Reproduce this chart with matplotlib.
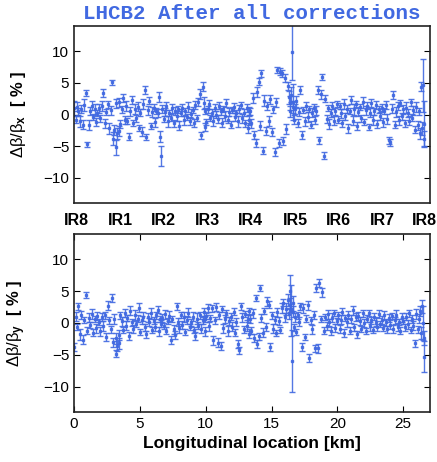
import numpy as np
import matplotlib
matplotlib.use("Agg")
import matplotlib.pyplot as plt

# BPM positions [km], shared by both planes
s_km = [
    0.03, 0.12, 0.22, 0.33, 0.44, 0.55, 0.66, 0.78, 0.89, 1.00, 1.11, 1.22, 1.33, 1.44, 1.56, 1.67,
    1.78, 1.89, 2.00, 2.11, 2.22, 2.33, 2.45, 2.56, 2.67, 2.78, 2.89, 2.98, 3.07, 3.16, 3.22, 3.28,
    3.38, 3.44, 3.52, 3.62, 3.73, 3.84, 3.95, 4.06, 4.17, 4.28, 4.39, 4.50, 4.61, 4.72, 4.83, 4.94,
    5.05, 5.16, 5.27, 5.38, 5.49, 5.60, 5.71, 5.82, 5.93, 6.04, 6.15, 6.26, 6.37, 6.48, 6.56, 6.63,
    6.71, 6.80, 6.91, 7.02, 7.13, 7.24, 7.35, 7.46, 7.57, 7.68, 7.79, 7.90, 8.01, 8.12, 8.23, 8.34,
    8.45, 8.56, 8.67, 8.78, 8.89, 9.00, 9.11, 9.22, 9.33, 9.44, 9.55, 9.66, 9.77, 9.86, 9.93, 9.98,
    10.05, 10.14, 10.25, 10.36, 10.47, 10.58, 10.69, 10.80, 10.91, 11.02, 11.13, 11.24, 11.35, 11.46, 11.57, 11.68,
    11.79, 11.90, 12.01, 12.12, 12.23, 12.34, 12.45, 12.56, 12.67, 12.78, 12.89, 13.00, 13.11, 13.20, 13.27, 13.32,
    13.39, 13.47, 13.58, 13.69, 13.80, 13.91, 14.02, 14.13, 14.24, 14.35, 14.46, 14.57, 14.68, 14.79, 14.90, 15.01,
    15.12, 15.23, 15.34, 15.45, 15.56, 15.67, 15.78, 15.89, 16.00, 16.11, 16.22, 16.30, 16.38, 16.44, 16.50, 16.55, 16.60,
    16.66, 16.72, 16.79, 16.87, 16.98, 17.09, 17.20, 17.31, 17.42, 17.53, 17.64, 17.75, 17.86, 17.97, 18.08, 18.19,
    18.30, 18.41, 18.52, 18.63, 18.74, 18.85, 18.96, 19.07, 19.18, 19.29, 19.40, 19.51, 19.62, 19.73, 19.84, 19.95,
    20.06, 20.17, 20.28, 20.39, 20.50, 20.61, 20.72, 20.83, 20.94, 21.05, 21.16, 21.27, 21.38, 21.49, 21.60,
    21.71, 21.82, 21.93, 22.04, 22.15, 22.26, 22.37, 22.48, 22.59, 22.70, 22.81, 22.92, 23.03, 23.14, 23.25,
    23.36, 23.47, 23.58, 23.69, 23.80, 23.91, 24.02, 24.13, 24.24, 24.35, 24.46, 24.57, 24.68, 24.79, 24.90, 25.01,
    25.12, 25.23, 25.34, 25.45, 25.56, 25.67, 25.78, 25.89, 26.00, 26.11, 26.22, 26.31, 26.39, 26.46, 26.52, 26.57, 26.62,
]

# horizontal beta-beat [%] and its error
dbx = [
    1.0, -0.8, 1.2, 0.5, -1.1, 0.9, -1.6, 1.5, 3.4, -4.7, -1.7, 0.6, 1.4, -0.4, 0.8, -1.2,
    0.2, 1.0, -0.6, 1.3, 3.4, -1.4, 0.4, 1.6, -2.2, 0.7, 5.1, -3.8, -2.4, -5.2, 1.8, -3.0,
    -2.6, 1.9, -1.5, 0.8, 2.6, -0.9, 1.4, -1.0, -3.5, 0.5, 2.3, -1.3, 0.9, -0.6, 1.2, -2.1,
    0.3, -2.7, 1.6, 3.9, -3.6, 0.7, 2.2, -1.8, 0.4, 1.1, -1.2, 0.6, 0.2, 2.8, -3.5, -6.6,
    0.9, -0.7, 0.4, 1.3, -1.1, 0.2, -0.5, 1.0, -1.4, 0.6, -0.2, 0.8, -1.8, 0.3, 1.1, -0.9,
    0.5, -0.4, 1.2, -1.0, 0.1, 0.7, -1.3, 1.5, -0.6, 2.0, 3.2, -3.3, 4.4, 1.8, -2.0, 0.6,
    -1.2, 0.8, 1.6, -0.5, 0.3, -1.0, 1.1, 0.0, -0.7, 1.4, 0.5, -1.3, 0.9, -0.2, 1.8, -0.8,
    0.4, -1.6, 0.7, 1.2, -0.4, 0.2, -1.1, 0.9, 1.5, -0.6, 0.3, -1.4, 1.0, -2.2, 0.6, -0.9,
    0.5, -1.4, 2.6, -3.2, -4.5, 3.6, 5.2, -1.8, 6.5, -5.7, 2.2, -2.6, 1.3, -1.0, 2.4, -2.8,
    0.8, -5.9, 1.9, 7.0, -4.5, 6.8, 6.5, -4.2, 5.8, -2.3, 4.5, 2.7, 0.5, 1.8, 3.1, 9.9, 2.0,
    1.2, -0.8, 0.9, 2.1, -1.3, 0.4, 3.9, -3.2, 0.7, -1.1, 1.3, -0.4, 0.9, -1.6, 0.3, 1.1,
    -0.9, 0.6, 3.9, -4.1, 3.2, 5.9, -6.5, 2.5, -0.7, 1.0, -1.5, 0.2, 1.4, -1.0, 0.5, 1.7,
    -0.8, 1.3, 0.2, -1.4, 1.6, -0.3, 0.9, -2.2, 0.6, 2.3, -1.0, 0.8, 1.7, -1.8, 0.4,
    1.2, -0.6, 1.9, -1.2, 0.7, 1.4, -2.0, 0.3, 1.8, -0.9, 0.5, 1.5, -1.5, 0.8, -0.2,
    1.1, -1.2, 0.6, 1.5, -0.7, -4.1, -4.4, 0.9, 3.1, -1.6, 0.4, 1.3, -0.9, 1.8, -0.3, 0.8,
    -1.4, 1.1, 0.2, -1.0, 1.9, -0.5, 0.7, -2.4, 1.2, -1.7, 0.5, -3.0, 4.4, -2.2, 4.6, -1.5, -3.8,
]
err_x = [
    1.2, 0.6, 0.7, 0.5, 0.8, 0.6, 0.7, 0.9, 0.5, 0.4, 0.8, 0.6, 0.7, 0.5, 0.9, 0.6,
    0.5, 0.7, 0.6, 0.8, 0.6, 0.7, 0.5, 0.6, 0.9, 0.7, 0.4, 1.0, 0.8, 1.2, 0.7, 0.9,
    0.8, 0.7, 0.6, 0.5, 0.7, 0.6, 0.8, 0.5, 0.6, 0.7, 0.6, 0.5, 0.8, 0.6, 0.7, 0.5,
    0.6, 0.7, 0.8, 0.6, 0.5, 0.7, 0.6, 0.5, 0.8, 0.6, 0.7, 0.5, 0.6, 0.8, 0.9, 1.6,
    0.6, 0.5, 0.7, 0.6, 0.8, 0.5, 0.6, 0.7, 0.5, 0.6, 0.8, 0.5, 0.7, 0.6, 0.5, 0.7,
    0.6, 0.5, 0.8, 0.6, 0.7, 0.5, 0.6, 0.7, 0.5, 0.6, 0.8, 0.6, 0.7, 0.9, 0.6, 0.5,
    0.5, 0.6, 0.7, 0.5, 0.6, 0.8, 0.5, 0.6, 0.7, 0.5, 0.6, 0.7, 0.5, 0.8, 0.6, 0.5,
    0.7, 0.6, 0.5, 0.6, 0.7, 0.5, 0.8, 0.6, 0.5, 0.7, 0.6, 0.5, 0.6, 0.8, 0.6, 0.7,
    0.6, 0.7, 0.8, 0.6, 0.7, 0.8, 0.6, 0.7, 0.6, 0.5, 0.9, 0.7, 0.6, 0.8, 0.7, 0.6,
    0.5, 0.6, 0.7, 0.5, 0.6, 0.5, 0.6, 0.7, 0.6, 0.8, 0.7, 1.0, 0.9, 1.1, 1.2, 4.5, 2.8,
    1.0, 0.7, 0.8, 0.9, 0.6, 0.7, 0.6, 0.6, 0.5, 0.7, 0.6, 0.8, 0.5, 0.6, 0.7, 0.5,
    0.6, 0.7, 0.6, 0.6, 0.7, 0.5, 0.6, 0.6, 0.7, 0.5, 0.8, 0.6, 0.5, 0.7, 0.6, 0.5,
    0.6, 0.5, 0.7, 0.6, 0.8, 0.5, 0.6, 0.7, 0.5, 0.6, 0.7, 0.8, 0.5, 0.6, 0.7,
    0.5, 0.6, 0.8, 0.5, 0.7, 0.6, 0.5, 0.7, 0.6, 0.8, 0.5, 0.6, 0.7, 0.5, 0.6,
    0.6, 0.7, 0.5, 0.6, 0.8, 0.5, 0.6, 0.7, 0.6, 0.5, 0.8, 0.6, 0.7, 0.5, 0.6, 0.7,
    0.5, 0.8, 0.6, 0.7, 0.5, 0.6, 0.7, 0.6, 0.8, 0.7, 0.6, 0.9, 0.7, 1.0, 4.2, 3.6, 1.2,
]

# vertical beta-beat [%] and its error
dby = [
    -3.8, 1.0, -0.6, 2.6, -1.8, 1.3, -2.6, 0.5, 4.4, -1.2, 0.8, -0.3, 1.4, -1.5, 0.6, -0.8,
    1.1, 0.2, -1.3, 0.9, -0.5, 1.2, -2.2, 2.7, 0.4, -1.0, 3.9, -3.0, 0.6, -2.4, -4.8, -3.6,
    -3.2, -1.9, 1.2, 0.3, -1.1, 1.6, -0.4, 0.8, -2.0, 1.9, 0.1, -0.9, 1.3, -0.2, 0.7, 2.4,
    -1.4, 0.5, 1.0, -0.7, -1.8, 0.9, 0.2, 1.5, -1.1, 0.4, -0.6, 1.2, 2.1, -1.3, 0.6, -0.1,
    0.8, -0.5, 1.4, -1.2, 0.3, 1.1, -2.7, 0.6, -1.0, -1.9, 2.6, 0.2, -0.8, 1.3, -0.3, 0.9,
    -1.4, 0.5, 1.6, -0.6, 0.1, 1.0, -1.1, -2.0, 0.7, -0.4, 1.2, -0.9, 0.4, 1.7, -1.3, 0.6,
    1.1, 2.4, -0.5, 0.8, 2.3, -2.7, 0.4, 2.5, -3.1, 1.2, -3.6, 2.2, -0.8, 0.6, 1.5, -1.2,
    0.3, 1.0, -0.6, 1.8, -1.5, 0.2, -3.3, -4.3, 2.6, 0.9, -1.0, 1.4, -0.4, 0.7, -1.7, 1.9,
    0.6, -1.2, 1.5, -2.4, 3.9, -3.3, -2.1, 5.5, 0.8, -1.5, 1.9, -0.6, 3.4, 2.9, -3.8, 1.2,
    -0.9, 0.5, -1.6, 1.7, 0.3, -1.1, 2.4, 3.2, 0.9, 2.2, 3.6, 1.4, 5.0, 2.8, 2.0, -6.0, 3.1,
    1.8, -0.7, 0.9, -1.4, 1.2, 0.2, 2.6, -3.8, 2.3, -2.2, 0.7, 2.8, -5.5, 0.4, -1.0, 1.3,
    -4.0, 5.5, -4.0, 6.3, 0.6, 4.8, -1.2, 0.9, -0.5, 1.4, 0.1, -1.3, 0.8, 1.6, -0.8, 0.3,
    1.2, -0.9, 0.5, 1.8, -1.6, 0.8, 0.1, 1.3, -1.2, 0.6, 2.0, -0.7, 0.9, -1.8, 1.1,
    0.3, -0.9, 1.5, 0.0, -1.3, 0.7, 1.6, -0.5, 0.4, -1.1, 1.0, 0.2, -0.7, 1.4, -0.2,
    0.5, -0.8, 1.2, 0.1, -1.0, 0.8, -0.3, 1.1, -0.9, 0.4, 1.3, -0.6, 0.2, -1.2, 0.9, 0.3,
    -0.7, 1.0, -0.2, 1.5, -1.1, 0.6, -0.4, -3.2, 1.4, -1.0, 0.7, 1.9, -1.6, 2.6, 0.0, -5.3, -2.4,
]
err_y = [
    0.6, 0.7, 0.5, 0.6, 0.8, 0.6, 0.7, 0.5, 0.4, 0.6, 0.7, 0.5, 0.8, 0.6, 0.5, 0.7,
    0.6, 0.5, 0.7, 0.6, 0.8, 0.5, 0.6, 0.7, 0.6, 0.5, 0.6, 0.7, 0.8, 0.9, 0.5, 0.8,
    0.9, 0.8, 0.6, 0.7, 0.5, 0.6, 0.7, 0.5, 0.6, 0.7, 0.5, 0.6, 0.8, 0.5, 0.6, 0.7,
    0.5, 0.6, 0.7, 0.6, 0.5, 0.7, 0.6, 0.8, 0.5, 0.6, 0.7, 0.5, 0.6, 0.7, 0.5, 0.6,
    0.6, 0.5, 0.7, 0.6, 0.5, 0.8, 0.6, 0.5, 0.7, 0.6, 0.5, 0.6, 0.7, 0.5, 0.6, 0.8,
    0.5, 0.6, 0.7, 0.5, 0.6, 0.7, 0.5, 0.6, 0.8, 0.5, 0.6, 0.7, 0.5, 0.6, 0.7, 0.5,
    0.5, 0.6, 0.7, 0.5, 0.6, 0.7, 0.5, 0.6, 0.7, 0.5, 0.6, 0.5, 0.7, 0.6, 0.5, 0.8,
    0.6, 0.5, 0.7, 0.6, 0.5, 0.6, 0.7, 0.6, 0.5, 0.7, 0.6, 0.5, 0.8, 0.6, 0.7, 0.5,
    0.6, 0.5, 0.7, 0.6, 0.5, 0.7, 0.6, 0.5, 0.6, 0.7, 0.5, 0.6, 0.7, 0.5, 0.6, 0.5,
    0.7, 0.6, 0.5, 0.7, 0.6, 0.5, 0.8, 0.6, 0.7, 0.9, 1.0, 0.8, 2.6, 1.1, 4.0, 4.9, 1.2,
    0.9, 0.6, 0.7, 0.5, 0.6, 0.7, 0.5, 0.6, 0.7, 0.5, 0.6, 0.7, 0.6, 0.5, 0.7, 0.6,
    0.5, 0.6, 0.7, 0.6, 0.5, 0.7, 0.6, 0.5, 0.6, 0.7, 0.5, 0.6, 0.7, 0.5, 0.6, 0.5,
    0.5, 0.6, 0.7, 0.5, 0.6, 0.5, 0.7, 0.6, 0.5, 0.6, 0.7, 0.5, 0.6, 0.5, 0.7,
    0.6, 0.5, 0.6, 0.7, 0.5, 0.6, 0.5, 0.7, 0.6, 0.5, 0.6, 0.7, 0.5, 0.6, 0.5,
    0.6, 0.5, 0.7, 0.6, 0.5, 0.6, 0.7, 0.5, 0.6, 0.5, 0.7, 0.6, 0.5, 0.6, 0.7, 0.5,
    0.6, 0.5, 0.7, 0.6, 0.5, 0.6, 0.7, 0.5, 0.8, 0.6, 0.7, 0.8, 0.9, 1.0, 2.6, 2.4, 1.1,
]

ir_names = ["IR8", "IR1", "IR2", "IR3", "IR4", "IR5", "IR6", "IR7", "IR8"]
ir_pos = [0.2, 3.5, 6.8, 10.1, 13.4, 16.8, 20.1, 23.4, 26.6]

blue = "#4169e1"
plt.rcParams["font.family"] = ["Liberation Sans", "DejaVu Sans"]
plt.rcParams["mathtext.fontset"] = "custom"
plt.rcParams["mathtext.rm"] = "Liberation Sans"
plt.rcParams["mathtext.it"] = "Liberation Sans"
plt.rcParams["mathtext.bf"] = "Liberation Sans:bold"

fig = plt.figure(figsize=(4.37, 4.62), dpi=100)
ax1 = fig.add_axes([74 / 437, 1 - 203 / 462, 355.5 / 437, 177 / 462])
ax2 = fig.add_axes([74 / 437, 1 - 412 / 462, 355.5 / 437, 178 / 462])

for ax, yv, ev, lab in [(ax1, dbx, err_x, "x"), (ax2, dby, err_y, "y")]:
    ax.errorbar(s_km, yv, yerr=ev, fmt="s", ms=1.8, color=blue, ecolor=blue,
                elinewidth=1.0, capsize=2.1, capthick=1.0, alpha=0.9)
    ax.set_xlim(0, 27)
    ax.set_ylim(-14, 14)
    ax.set_yticks([-10, -5, 0, 5, 10])
    ax.set_xticks([0, 5, 10, 15, 20, 25])
    ax.tick_params(direction="in", length=4, width=0.8, labelsize=11, right=True, top=True)
    ylab = r"$\Delta\beta/\beta_{\mathbf{" + lab + r"}}\ \ \mathbf{[\ \%\ ]}$"
    ax.set_ylabel(ylab, fontsize=12, labelpad=11)
    for sp in ax.spines.values():
        sp.set_linewidth(1.2)
        sp.set_color("#222222")

ax1.tick_params(axis="x", top=False, bottom=False, labelbottom=False)
ax2.set_xlabel("Longitudinal location [km]", fontsize=12.5, fontweight="bold", labelpad=4)

for name, p in zip(ir_names, ir_pos):
    ax2.text(p, 1.035, name, transform=ax2.get_xaxis_transform(), ha="center", va="bottom",
             fontsize=11.5, fontweight="bold")

ax1.set_title("LHCB2 After all corrections", family="Liberation Mono", fontweight="bold",
              fontsize=15, color=blue, pad=5)

fig.savefig("out.png", dpi=100)
